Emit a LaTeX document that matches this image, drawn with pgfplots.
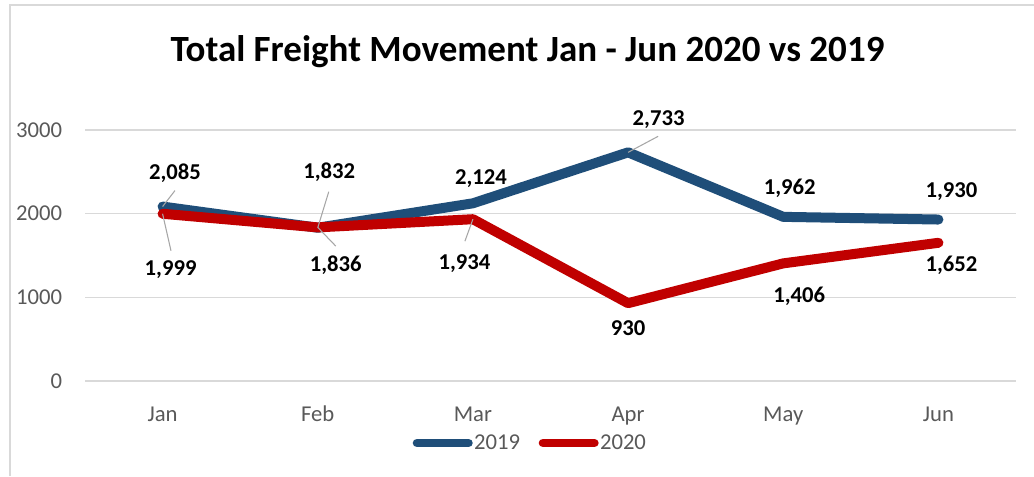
\documentclass[border=0pt]{standalone}
\usepackage{pgfplots}
\pgfplotsset{compat=1.18}
\usepackage{fontspec}
\setmainfont{Carlito}
\definecolor{c19}{RGB}{31,78,121}
\definecolor{c20}{RGB}{192,0,0}
\definecolor{gridc}{RGB}{217,217,217}
\definecolor{tickc}{RGB}{89,89,89}
\definecolor{leadc}{RGB}{166,166,166}
\begin{document}
\begin{tikzpicture}
\useasboundingbox (0,0) rectangle (775.5pt,357pt);
\draw[gridc, line width=1.3pt] (7.5pt,0pt) -- (7.5pt,353.25pt) -- (780pt,353.25pt);
\node[anchor=base, font=\fontsize{27.75}{32}\selectfont\bfseries] at (395.6pt,310.5pt) {Total Freight Movement Jan - Jun 2020 vs 2019};
\begin{axis}[
  at={(63.75pt,71.25pt)}, anchor=south west,
  scale only axis, width=698.25pt, height=188.25pt,
  xmin=-0.5, xmax=5.5, ymin=0, ymax=3000,
  xtick={0,1,2,3,4,5},
  xticklabels={Jan,Feb,Mar,Apr,May,Jun},
  ytick={0,1000,2000,3000},
  axis line style={draw=none},
  major tick length=0pt,
  ymajorgrids, grid style={gridc, line width=1.1pt},
  clip=false,
  /pgf/number format/assume math mode=true,
  /pgf/number format/1000 sep={},
  tick label style={font=\fontsize{17}{20}\selectfont, text=tickc, inner sep=0pt},
  yticklabel style={anchor=east, xshift=-17pt},
  xticklabel style={anchor=base, yshift=-30.5pt},
  legend columns=2,
  legend style={at={(axis description cs:0.478,-0.247)}, anchor=center, draw=none,
    font=\fontsize{17}{20}\selectfont, text=tickc,
    nodes={inner sep=1pt},
    /tikz/every even column/.append style={column sep=13pt}},
  legend image code/.code={\draw[line width=6.4pt, line cap=round, #1] (3.2pt,0pt) -- (41.8pt,0pt);},
]
\addplot[c19, line width=7.5pt, line cap=round, line join=round] coordinates {
  (0,2085) (1,1832) (2,2124) (3,2733) (4,1962) (5,1930)};
\addlegendentry{2019}
\addplot[c20, line width=7.5pt, line cap=round, line join=round] coordinates {
  (0,1999) (1,1836) (2,1934) (3,930) (4,1406) (5,1652)};
\addlegendentry{2020}
% leader lines
\draw[leadc, line width=0.8pt] (axis cs:0,2085) -- ++(9.3pt,12pt);
\draw[leadc, line width=0.8pt] (axis cs:0,1999) -- ++(6.3pt,-27.75pt);
\draw[leadc, line width=0.8pt] (axis cs:1,1832) -- ++(8.25pt,27pt);
\draw[leadc, line width=0.8pt] (axis cs:1,1836) -- ++(13.5pt,-14pt);
\draw[leadc, line width=0.8pt] (axis cs:2,1934) -- ++(-6pt,-16.5pt);
\draw[leadc, line width=0.8pt] (axis cs:3,2733) -- ++(22.5pt,12pt);
% data labels
\begin{scope}[every node/.style={font=\fontsize{17}{20}\selectfont\bfseries, inner sep=0pt, anchor=center}]
\node at ([shift={(9.3pt,25.2pt)}]axis cs:0,2085) {2,085};
\node at ([shift={(8.6pt,41.8pt)}]axis cs:1,1832) {1,832};
\node at ([shift={(6pt,18.75pt)}]axis cs:2,2124) {2,124};
\node at ([shift={(22.9pt,24.75pt)}]axis cs:3,2733) {2,733};
\node at ([shift={(4.9pt,21.75pt)}]axis cs:4,1962) {1,962};
\node at ([shift={(9.75pt,21pt)}]axis cs:5,1930) {1,930};
\node at ([shift={(6pt,-42pt)}]axis cs:0,1999) {1,999};
\node at ([shift={(13.5pt,-28.2pt)}]axis cs:1,1836) {1,836};
\node at ([shift={(-6.3pt,-33pt)}]axis cs:2,1934) {1,934};
\node at ([shift={(0pt,-18.75pt)}]axis cs:3,930) {930};
\node at ([shift={(12pt,-24.75pt)}]axis cs:4,1406) {1,406};
\node at ([shift={(9.75pt,-17.25pt)}]axis cs:5,1652) {1,652};
\end{scope}
\end{axis}
\end{tikzpicture}
\end{document}
